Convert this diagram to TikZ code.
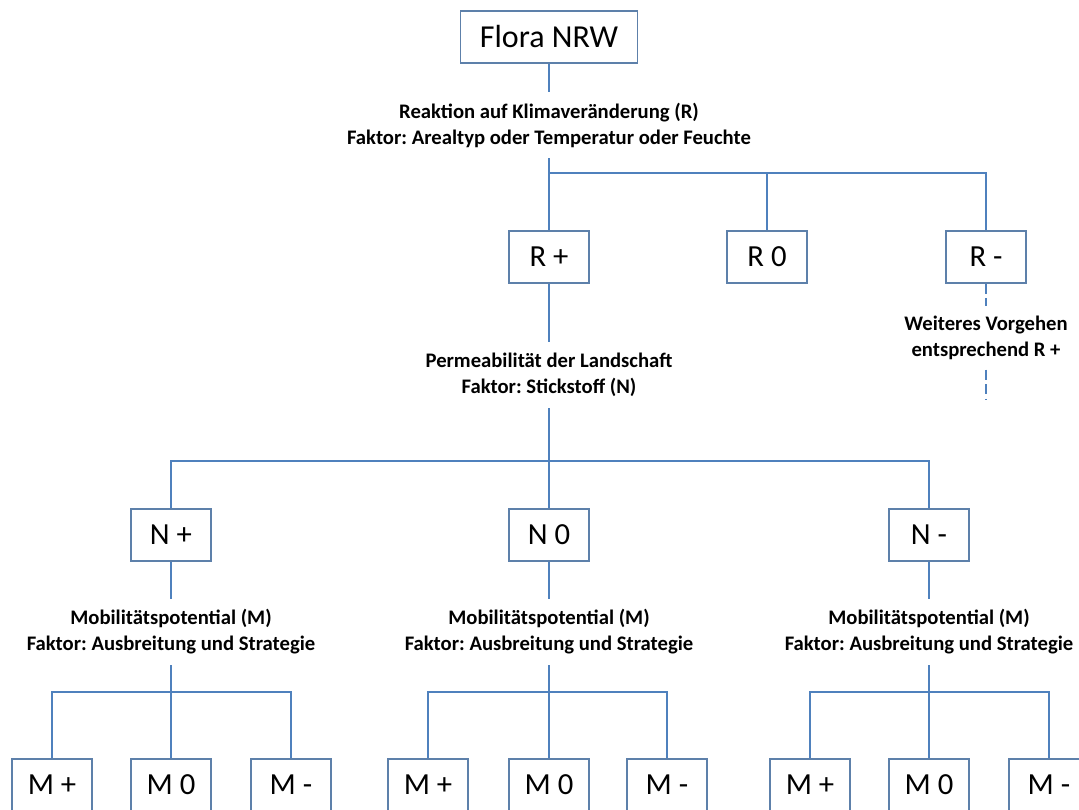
\documentclass[tikz,border=0pt]{standalone}
\usepackage{fontspec}
\setmainfont{Carlito}
\frenchspacing
\definecolor{linie}{RGB}{79,129,189}
\definecolor{rahmen}{RGB}{93,128,170}

\begin{document}
\begin{tikzpicture}[x=0.75pt, y=-0.75pt,
    ast/.style={draw=linie, line width=1.5pt},
    klasse/.style={draw=rahmen, line width=1.1pt, minimum width=60pt,
      minimum height=39pt, inner sep=0pt, font=\fontsize{23}{27}\selectfont},
    faktor/.style={align=center, inner sep=0pt, minimum height=49.5pt,
      font=\bfseries\fontsize{15.5}{19.5}\selectfont}]

      \clip (0,0) rectangle (1079,810);

      \node[klasse, minimum width=132.75pt, font=\fontsize{24}{28}\selectfont] (flora) at (549,37) {Flora NRW};

      \node[faktor] (rtext) at (549,125)
      {Reaktion auf Klimaveränderung (R)\\
        Faktor: Arealtyp oder Temperatur oder Feuchte};
      \coordinate (rbar) at (549,173);

      \node[klasse] (rplus) at (549,257) {R +};
      \node[klasse] (rnull) at (767,257) {R 0};
      \node[klasse] (rminus) at (986,257) {R -};

      \node[faktor, minimum height=47pt] (weiter) at (986,338)
      {Weiteres Vorgehen\\ entsprechend R +};
      \coordinate (rend) at (986,400);

      \node[faktor] (ptext) at (549,375)
      {Permeabilität der Landschaft\\ Faktor: Stickstoff (N)};
      \coordinate (nbar) at (549,461);

      \node[klasse] (nplus) at (171,535) {N +};
      \node[klasse] (nnull) at (549,535) {N 0};
      \node[klasse] (nminus) at (929,535) {N -};

      % Mobilitaet unter N+, N0, N-
      \node[faktor] (mtexta) at (171,632) {Mobilitätspotential (M)\\ Faktor: Ausbreitung und Strategie};
      \node[faktor] (mtextb) at (549,632) {Mobilitätspotential (M)\\ Faktor: Ausbreitung und Strategie};
      \node[faktor] (mtextc) at (929,632) {Mobilitätspotential (M)\\ Faktor: Ausbreitung und Strategie};
      \coordinate (mbara) at (171,692);
      \coordinate (mbarb) at (549,692);
      \coordinate (mbarc) at (929,692);

      \node[klasse] (mplusa) at (52,785) {M +};
      \node[klasse] (mnulla) at (171,785) {M 0};
      \node[klasse] (mminusa) at (291,785) {M -};
      \node[klasse] (mplusb) at (428,785) {M +};
      \node[klasse] (mnullb) at (549,785) {M 0};
      \node[klasse] (mminusb) at (667,785) {M -};
      \node[klasse] (mplusc) at (810,785) {M +};
      \node[klasse] (mnullc) at (929,785) {M 0};
      \node[klasse] (mminusc) at (1049,785) {M -};

      \draw[ast] (flora) -- (rtext);
      \draw[ast] (rtext) -- (rplus);
      \draw[ast] (rbar) -| (rnull);
      \draw[ast] (rbar) -| (rminus);
      \draw[ast, dash pattern=on 7.5pt off 3.5pt] (rminus) -- (weiter);
      \draw[ast, dash pattern=on 7.5pt off 3.5pt] (weiter) -- (rend);

      \draw[ast] (rplus) -- (ptext);
      \draw[ast] (ptext) -- (nnull);
      \draw[ast] (nbar) -| (nplus);
      \draw[ast] (nbar) -| (nminus);

      \draw[ast] (nplus) -- (mtexta);
      \draw[ast] (mtexta) -- (mnulla);
      \draw[ast] (mbara) -| (mplusa);
      \draw[ast] (mbara) -| (mminusa);
      \draw[ast] (nnull) -- (mtextb);
      \draw[ast] (mtextb) -- (mnullb);
      \draw[ast] (mbarb) -| (mplusb);
      \draw[ast] (mbarb) -| (mminusb);
      \draw[ast] (nminus) -- (mtextc);
      \draw[ast] (mtextc) -- (mnullc);
      \draw[ast] (mbarc) -| (mplusc);
      \draw[ast] (mbarc) -| (mminusc);
    \end{tikzpicture}
\end{document}
